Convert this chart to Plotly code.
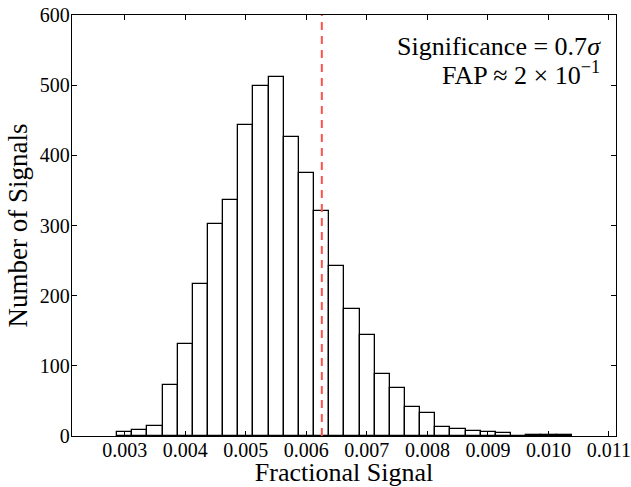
import numpy as np
import plotly.graph_objects as go

# histogram of fractional signal, 30 equal bins
bin_start = 0.002873
bin_width = 0.0002504
counts = [5, 8, 14, 72, 131, 217, 302, 337, 443, 499,
          511, 426, 375, 320, 242, 181, 144, 89, 68, 41,
          33, 13, 10, 7, 5, 4, 0, 1, 1, 1]
observed = 0.006256

x_ticks = [0.003, 0.004, 0.005, 0.006, 0.007, 0.008, 0.009, 0.010, 0.011]
y_ticks = [0, 100, 200, 300, 400, 500, 600]

centers = bin_start + bin_width * (np.arange(len(counts)) + 0.5)

FONT = "Liberation Serif"

fig = go.Figure()
fig.add_trace(go.Bar(
    x=centers, y=counts, width=bin_width,
    marker=dict(color="white", line=dict(color="black", width=1.3)),
    showlegend=False, hoverinfo="skip",
))

# observed value
fig.add_shape(type="line", xref="x", yref="paper",
              x0=observed, x1=observed, y0=0, y1=1,
              line=dict(color="#ff5050", width=2, dash="8px,6px"))

# two text lines, placed separately for tighter spacing
fig.add_annotation(
    xref="paper", yref="paper", x=0.977, y=0.926, xanchor="right", yanchor="middle",
    showarrow=False, text="Significance = 0.7<i>σ</i>",
    font=dict(family=FONT, size=26, color="black"),
)
fig.add_annotation(
    xref="paper", yref="paper", x=0.975, y=0.862, xanchor="right", yanchor="middle",
    showarrow=False, text="FAP ≈ 2 × 10<sup>−1</sup>",
    font=dict(family=FONT, size=26, color="black"),
)

axis_common = dict(
    showline=True, linecolor="black", linewidth=1.3, mirror="ticks",
    ticks="inside", ticklen=5, tickwidth=1, tickcolor="black",
    showgrid=False, zeroline=False, automargin=False,
    ticklabeloverflow="allow",
    tickfont=dict(family=FONT, size=20, color="black"),
)

fig.update_xaxes(
    range=[0.002129, 0.011116], tickvals=x_ticks, tickformat=".3f",
    ticklabelstandoff=-4,
    title=dict(text="Fractional Signal", font=dict(family=FONT, size=26, color="black"),
               standoff=0),
    **axis_common,
)
fig.update_yaxes(
    range=[0, 600], tickvals=y_ticks, ticklabelstandoff=-3,
    title=dict(text="Number of Signals", font=dict(family=FONT, size=27, color="black"),
               standoff=4),
    **axis_common,
)

fig.update_layout(
    width=631, height=487,
    margin=dict(l=72, r=15, t=15, b=51),
    paper_bgcolor="white", plot_bgcolor="white",
    bargap=0,
)

fig.write_html("out.html", config={"displayModeBar": False},
               post_script="document.body.style.margin='0';")
